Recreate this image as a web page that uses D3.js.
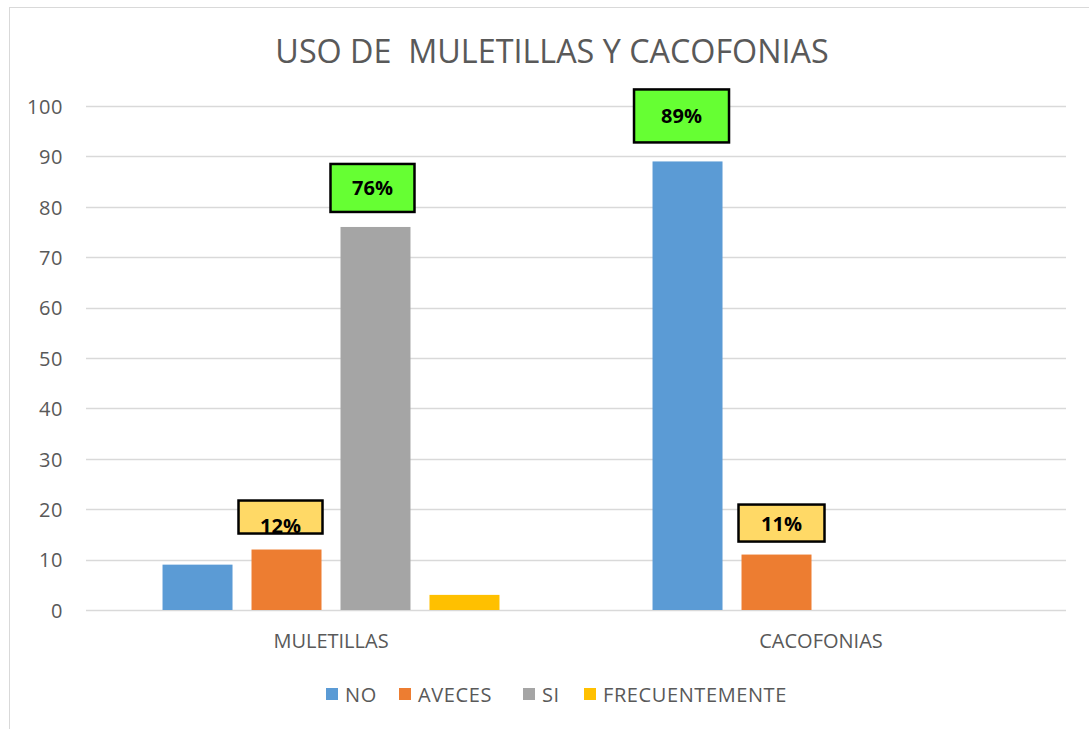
<!DOCTYPE html>
<html>
<head>
<meta charset="utf-8">
<script src="https://cdn.jsdelivr.net/npm/d3@7"></script>
<style>
  html, body { margin: 0; padding: 0; background: #ffffff; }
  svg { display: block; }
  text { font-family: "Open Sans", Lato, sans-serif; }
</style>
</head>
<body>
<svg id="chart" width="1089" height="729"></svg>
<script>
// ---- data ----
const title = "USO DE\u00a0 MULETILLAS Y CACOFONIAS";
const categories = ["MULETILLAS", "CACOFONIAS"];
const seriesNames = ["NO", "AVECES", "SI", "FRECUENTEMENTE"];
const valuesNO = [9, 89];
const valuesAVECES = [12, 11];
const valuesSI = [76, 0];
const valuesFRECUENTEMENTE = [3, 0];
const yTicks = [0, 10, 20, 30, 40, 50, 60, 70, 80, 90, 100];
// data labels
const labelCategories = ["MULETILLAS", "MULETILLAS", "CACOFONIAS", "CACOFONIAS"];
const labelSeries = ["AVECES", "SI", "NO", "AVECES"];
const labelTexts = ["12%", "76%", "89%", "11%"];

// ---- styles / layout ----
const FONT = "'Open Sans', Lato, sans-serif";
const colors = ["#5B9BD5", "#ED7D31", "#A5A5A5", "#FFC000"];
const labelFills = ["#FFD966", "#66FF33", "#66FF33", "#FFD966"];
const labelBoxW = [84, 84, 95, 86];
const labelBoxH = [33, 48, 53, 37];
const labelDx = [-6, -3, -6, 5];
const labelGap = [16, 15, 19, 13];
const labelTextDy = [16, 7, 7, 8];

const seriesValues = [valuesNO, valuesAVECES, valuesSI, valuesFRECUENTEMENTE];
const svg = d3.select("#chart");

// chart border
svg.append("rect").attr("x", 9.5).attr("y", 7.5).attr("width", 1100).attr("height", 740)
  .attr("fill", "#fff").attr("stroke", "#d9d9d9").attr("stroke-width", 1);

const plotLeft = 86, plotRight = 1066, plotTop = 106, plotBottom = 610;

const y = d3.scaleLinear().domain([0, 100]).range([plotBottom, plotTop]);
const x0 = d3.scaleBand().domain(categories).range([plotLeft, plotRight]).padding(0);
const x1 = d3.scaleBand().domain(seriesNames).range([0, x0.bandwidth()])
  .paddingInner(19 / 89).paddingOuter(0.86);

// title
svg.append("text").attr("x", 552).attr("y", 63).attr("text-anchor", "middle")
  .attr("font-size", 32.3).attr("fill", "#595959").style("font-family", FONT).text(title);

// gridlines
svg.append("g").selectAll("line").data(yTicks).join("line")
  .attr("x1", plotLeft).attr("x2", plotRight)
  .attr("y1", d => Math.round(y(d)) + 0.5).attr("y2", d => Math.round(y(d)) + 0.5)
  .attr("stroke", "#d9d9d9").attr("stroke-width", 1.5);

// y axis labels
const yAxis = d3.axisLeft(y).tickValues(yTicks).tickSize(0).tickPadding(0);
const gy = svg.append("g").attr("transform", `translate(63,0)`).call(yAxis);
gy.select(".domain").remove();
gy.selectAll("text").attr("font-size", 20).attr("fill", "#595959").attr("dy", "0.36em")
  .attr("letter-spacing", 0.6).style("font-family", FONT);

// bars
const groups = svg.append("g").selectAll("g").data(categories).join("g")
  .attr("transform", d => `translate(${x0(d)},0)`);
groups.selectAll("rect")
  .data((c, ci) => seriesNames.map((s, si) => ({ s, si, v: seriesValues[si][ci] })))
  .join("rect")
  .attr("x", d => x1(d.s)).attr("width", x1.bandwidth())
  .attr("y", d => y(d.v)).attr("height", d => y(0) - y(d.v))
  .attr("fill", d => colors[d.si]);

// category axis labels
const xAxis = d3.axisBottom(x0).tickSize(0).tickPadding(0);
const gx = svg.append("g").attr("transform", `translate(0,${plotBottom})`).call(xAxis);
gx.select(".domain").remove();
gx.selectAll("text").attr("font-size", 20).attr("fill", "#595959")
  .attr("dy", null).attr("y", 38).style("font-family", FONT);

// data labels
labelTexts.forEach((t, i) => {
  const ci = categories.indexOf(labelCategories[i]);
  const si = seriesNames.indexOf(labelSeries[i]);
  const v = seriesValues[si][ci];
  const cx = x0(labelCategories[i]) + x1(labelSeries[i]) + x1.bandwidth() / 2 + labelDx[i];
  const bottom = y(v) - labelGap[i];
  const top = bottom - labelBoxH[i];
  const g = svg.append("g");
  g.append("rect").attr("x", cx - labelBoxW[i] / 2).attr("y", top)
    .attr("width", labelBoxW[i]).attr("height", labelBoxH[i])
    .attr("fill", labelFills[i]).attr("stroke", "#000").attr("stroke-width", 2.5);
  const clipId = "clip" + i;
  g.append("clipPath").attr("id", clipId).append("rect")
    .attr("x", cx - labelBoxW[i] / 2).attr("y", top)
    .attr("width", labelBoxW[i]).attr("height", labelBoxH[i]);
  g.append("text").attr("x", cx).attr("y", top + labelBoxH[i] / 2 + labelTextDy[i])
    .attr("text-anchor", "middle").attr("font-size", 20).attr("font-weight", "bold")
    .attr("fill", "#000").style("font-family", FONT)
    .attr("clip-path", i === 0 ? `url(#${clipId})` : null).text(t);
});

// legend
const legendX = [326, 399, 523, 584];
const leg = svg.append("g").selectAll("g").data(seriesNames).join("g")
  .attr("transform", (d, i) => `translate(${legendX[i]},688)`);
leg.append("rect").attr("width", 12).attr("height", 12).attr("fill", (d, i) => colors[i]);
leg.append("text").attr("x", 19).attr("y", 13.5).attr("font-size", 20).attr("fill", "#595959")
  .attr("letter-spacing", 0.6).style("font-family", FONT).text(d => d);
</script>
</body>
</html>
